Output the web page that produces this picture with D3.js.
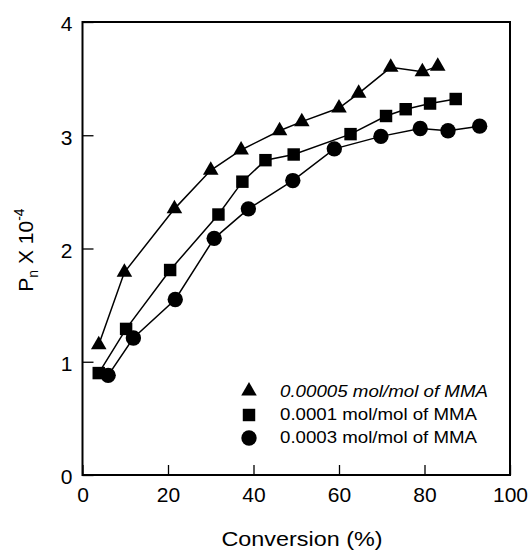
<!DOCTYPE html>
<html><head><meta charset="utf-8">
<script src="https://cdn.jsdelivr.net/npm/d3@7"></script>
<style>body{margin:0;background:#fff;} text{font-family:Arial,"Liberation Sans",sans-serif;fill:#000;}</style>
</head><body><svg id="c" width="532" height="552"></svg>
<script>
const xTicks=[0,20,40,60,80,100];
const yTicks=[0,1,2,3,4];
const triX=[3.8,9.8,21.5,30,37.1,46.1,51.3,60,64.6,72.1,79.5,83.1];
const triY=[1.15,1.79,2.35,2.69,2.87,3.04,3.12,3.24,3.37,3.6,3.56,3.61];
const sqX=[3.8,10.2,20.5,31.8,37.4,42.8,49.4,62.7,71,75.6,81.3,87.3];
const sqY=[0.90,1.29,1.81,2.30,2.59,2.78,2.83,3.01,3.17,3.23,3.28,3.32];
const ciX=[6,11.9,21.7,30.8,38.8,49.2,58.9,69.8,79,85.5,92.9];
const ciY=[0.88,1.21,1.55,2.09,2.35,2.60,2.88,2.99,3.06,3.04,3.08];
const legendLabels=["0.00005 mol/mol of MMA","0.0001 mol/mol of MMA","0.0003 mol/mol of MMA"];

const svg=d3.select("#c");
const x=d3.scaleLinear().domain([0,100]).range([82.5,510]);
const y=d3.scaleLinear().domain([0,4]).range([475,22]);

svg.append("rect").attr("x",x(0)).attr("y",y(4)).attr("width",x(100)-x(0)).attr("height",y(0)-y(4))
  .attr("fill","none").attr("stroke","#000").attr("stroke-width",2);

const xa=svg.append("g").attr("transform",`translate(0,${y(0)})`)
  .call(d3.axisBottom(x).tickValues(xTicks).tickSize(-10).tickPadding(12).tickFormat(d3.format("d")));
const ya=svg.append("g").attr("transform",`translate(${x(0)},0)`)
  .call(d3.axisLeft(y).tickValues(yTicks).tickSize(-11).tickPadding(10).tickFormat(d3.format("d")));
[xa,ya].forEach(a=>{a.select(".domain").remove();a.selectAll("line").attr("stroke","#000").attr("stroke-width",1.3);
  a.selectAll("text").attr("font-size",21).attr("fill","#000").attr("font-family","Arial,'Liberation Sans',sans-serif");});
ya.selectAll("text").attr("dy","0.42em");

svg.append("text").attr("x",302).attr("y",546).attr("text-anchor","middle").attr("font-size",21)
  .attr("textLength",161).attr("lengthAdjust","spacingAndGlyphs").text("Conversion (%)");
const yt=svg.append("text").attr("transform",`translate(33,250) rotate(-90)`).attr("text-anchor","middle").attr("font-size",21);
yt.append("tspan").text("P");
yt.append("tspan").attr("font-size",14).attr("dy",5).text("n");
yt.append("tspan").attr("dy",-5).text(" X 10");
yt.append("tspan").attr("font-size",14).attr("dy",-9).text("-4");

const series=[
  {xs:triX,ys:triY,shape:d3.symbolTriangle,size:105},
  {xs:sqX,ys:sqY,shape:d3.symbolSquare,size:155},
  {xs:ciX,ys:ciY,shape:d3.symbolCircle,size:185}
];
const line=d3.line().x(d=>x(d[0])).y(d=>y(d[1]));
series.forEach(s=>{
  const pts=s.xs.map((v,i)=>[v,s.ys[i]]);
  svg.append("path").attr("d",line(pts)).attr("fill","none").attr("stroke","#000").attr("stroke-width",1.5);
});
series.forEach(s=>{
  const pts=s.xs.map((v,i)=>[v,s.ys[i]]);
  svg.selectAll(null).data(pts).enter().append("path")
    .attr("d",d3.symbol().type(s.shape).size(s.size))
    .attr("transform",d=>`translate(${x(d[0])},${y(d[1])})`).attr("fill","#000");
});

const ly=[391,415,438];
const lb=[397,420,443];
const lw=[208,197,197];
series.forEach((s,i)=>{
  svg.append("path").attr("d",d3.symbol().type(s.shape).size(s.size)).attr("transform",`translate(249,${ly[i]})`).attr("fill","#000");
  svg.append("text").attr("x",280).attr("y",lb[i]).attr("font-size",17).attr("textLength",lw[i]).attr("lengthAdjust","spacingAndGlyphs")
    .attr("font-style",i===0?"italic":"normal").text(legendLabels[i]);
});
</script></body></html>
